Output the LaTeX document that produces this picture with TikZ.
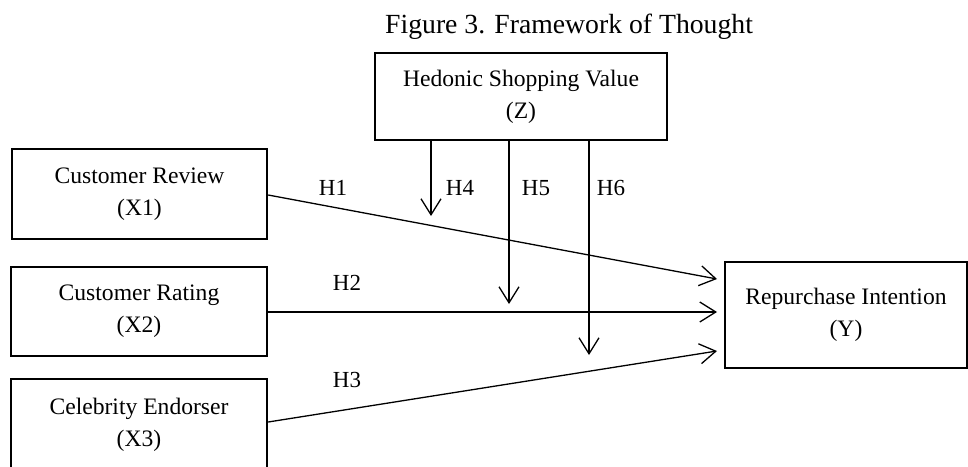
\documentclass[tikz,border=0pt]{standalone}
\usepackage{fontspec}
\setmainfont{Liberation Serif}
\usetikzlibrary{arrows.meta}
\begin{document}
\begin{tikzpicture}[x=1pt,y=-1pt,
  varbox/.style={draw,line width=2.4pt,inner sep=0pt,align=center,
    font=\fontsize{23.6}{32}\selectfont},
  arr/.style={line width=1.3pt,-{Straight Barb[length=16pt,width=20pt,line width=1.3pt]}},
  hlab/.style={anchor=base,inner sep=0pt,font=\fontsize{23}{28}\selectfont}]
\useasboundingbox (0,0) rectangle (968,466);
\clip (0,0) rectangle (968,466);
\node[anchor=base west,inner sep=0pt,font=\fontsize{27.7}{32}\selectfont] (title) at (385,33) {Figure 3. Framework of Thought};
\node[varbox,minimum width=292pt,minimum height=87pt] (Z) at (521,96.5) {Hedonic Shopping Value\\(Z)};
\node[varbox,minimum width=255pt,minimum height=90pt] (X1) at (139.5,194) {Customer Review\\(X1)};
\node[varbox,minimum width=256pt,minimum height=89pt] (X2) at (139,311.5) {Customer Rating\\(X2)};
\node[varbox,minimum width=256pt,minimum height=92pt] (X3) at (139,425) {Celebrity Endorser\\(X3)};
\node[varbox,minimum width=242pt,minimum height=106pt] (Y) at (846,315) {Repurchase Intention\\(Y)};
\coordinate (t1) at (717,279);
\coordinate (t2) at (717,312);
\coordinate (t3) at (717,351);
\coordinate (h4e) at (431,216);
\coordinate (h5e) at (509,304);
\coordinate (h6e) at (589,355);
\draw[arr] (X1.east |- 0,195) -- (t1);
\draw[arr] (X2.east |- t2) -- (t2);
\draw[arr] (X3.east |- 0,422) -- (t3);
\draw[arr] (Z.south -| h4e) -- (h4e);
\draw[arr] (Z.south -| h5e) -- (h5e);
\draw[arr] (Z.south -| h6e) -- (h6e);
\node[hlab] (H1) at (333,195) {H1};
\node[hlab] (H2) at (347,290) {H2};
\node[hlab] (H3) at (347,387) {H3};
\node[hlab] (H4) at (460,195) {H4};
\node[hlab] (H5) at (536,195) {H5};
\node[hlab] (H6) at (611,195) {H6};
\end{tikzpicture}
\end{document}
